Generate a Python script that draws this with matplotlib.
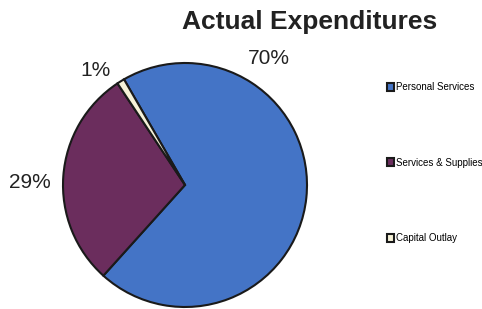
import matplotlib.pyplot as plt
from matplotlib.patches import Patch

categories = ['Personal Services', 'Services & Supplies', 'Capital Outlay']
shares = [70, 29, 1]
colors = ['#4474c6', '#6b2d5d', '#f6f2d8']

plt.rcParams['font.family'] = ['Liberation Sans', 'DejaVu Sans']

fig = plt.figure(figsize=(4.82, 3.09), dpi=100)
ax = fig.add_axes([0, 0, 1, 1])

wedges, _ = ax.pie(shares, colors=colors, startangle=120, counterclock=False,
                   center=(185, 124), radius=122, frame=True,
                   wedgeprops=dict(edgecolor='#1a1a1a', linewidth=1.5))
ax.set_xlim(0, 482)
ax.set_ylim(0, 309)
ax.axis('off')

# percent labels, placed like the original (Excel-style)
label_pos = [(269, 250), (30, 126), (96, 239)]
for v, (lx, ly) in zip(shares, label_pos):
    ax.text(lx, ly, f'{v}%', fontsize=15, ha='center', va='center', color='#222222')

ax.text(310, 287, 'Actual Expenditures', fontsize=19, fontweight='bold',
        ha='center', va='center', color='#222222')

handles = [Patch(facecolor=c, edgecolor='#1a1a1a', linewidth=1.5) for c in colors]
ax.legend(handles, categories, loc='upper left', bbox_to_anchor=(387 / 482, 1 - 82 / 309),
          frameon=False, fontsize=7, labelspacing=6.75, handlelength=0.75,
          handleheight=0.85, handletextpad=0.2, borderpad=0, borderaxespad=0)

fig.savefig('out.png', dpi=100)
